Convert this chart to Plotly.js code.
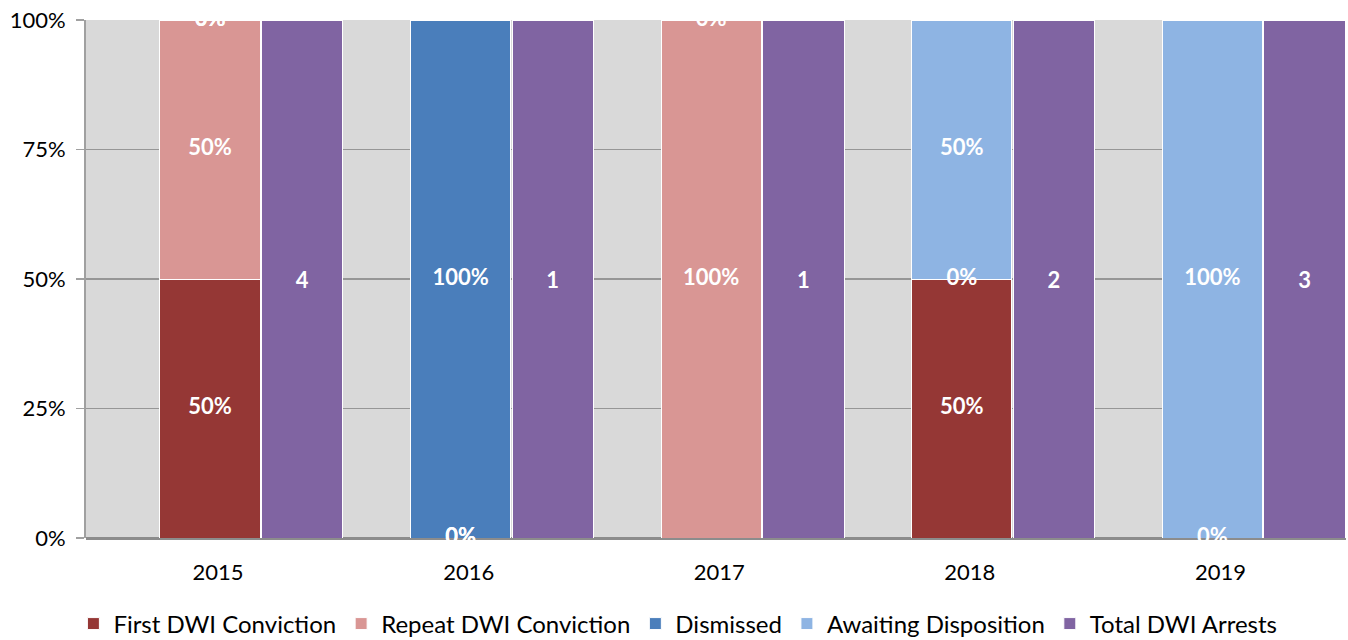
<!DOCTYPE html>
<html>
<head>
<meta charset="utf-8">
<script src="https://cdn.plot.ly/plotly-3.0.1.min.js"></script>
<style>html,body{margin:0;padding:0;background:#fff;}#chart{width:1348px;height:640px;}</style>
</head>
<body>
<div id="chart"></div>
<script>
const years = ['2015', '2016', '2017', '2018', '2019'];
const firstDWI = [0.5, 0, 0, 0.5, 0];
const repeatDWI = [0.5, 0, 1, 0, 0];
const dismissed = [0, 1, 0, 0, 0];
const awaiting = [0, 0, 0, 0.5, 1];
const totalArrests = [4, 1, 1, 2, 3];
const firstLabels = ['50%', '0%', '', '50%', '0%'];
const repeatLabels = ['50%', '0%', '100%', '0%', ''];
const dismissedLabels = ['0%', '100%', '0%', '', ''];
const awaitingLabels = ['0%', '', '', '50%', '100%'];
const yTicks = [0, 0.25, 0.5, 0.75, 1];

const FONT = 'Lato, "Open Sans", sans-serif';
const idx = years.map((_, i) => i);
const series = [
  {name: 'First DWI Conviction', vals: firstDWI, labels: firstLabels, color: '#953735'},
  {name: 'Repeat DWI Conviction', vals: repeatDWI, labels: repeatLabels, color: '#d99694'},
  {name: 'Dismissed', vals: dismissed, labels: dismissedLabels, color: '#4a7ebb'},
  {name: 'Awaiting Disposition', vals: awaiting, labels: awaitingLabels, color: '#8eb4e3'}
];

const traces = [];
const base = idx.map(() => 0);
const lx = [], ly = [], lt = [];
series.forEach(s => {
  traces.push({
    type: 'bar', name: s.name, x: idx, y: s.vals,
    offset: -0.2, width: 0.4,
    marker: {color: s.color, line: {color: '#ffffff', width: 1}},
    hoverinfo: 'skip'
  });
  idx.forEach(i => {
    if (s.labels[i] !== '') {
      lx.push(i);
      ly.push(base[i] + s.vals[i] / 2);
      lt.push(s.labels[i]);
    }
    base[i] += s.vals[i];
  });
});
traces.push({
  type: 'bar', name: 'Total DWI Arrests', x: idx,
  y: totalArrests.map(t => t / t), yaxis: 'y2',
  offset: 0.205, width: 0.325,
  text: totalArrests.map(String), textposition: 'inside', insidetextanchor: 'middle',
  textangle: 0,
  textfont: {color: '#ffffff', size: 22, family: FONT, weight: 'bold'},
  marker: {color: '#8064a2', line: {color: '#ffffff', width: 1}},
  hoverinfo: 'skip'
});
traces.push({
  type: 'scatter', mode: 'text', x: lx, y: ly, text: lt,
  textposition: 'middle center', cliponaxis: false, showlegend: false,
  textfont: {color: '#ffffff', size: 22, family: FONT, weight: 'bold'},
  hoverinfo: 'skip'
});

const layout = {
  width: 1348, height: 640,
  margin: {l: 86, r: 2, t: 20, b: 102, autoexpand: false},
  paper_bgcolor: '#ffffff', plot_bgcolor: '#d9d9d9',
  barmode: 'stack',
  font: {family: FONT, size: 22, color: '#000000'},
  showlegend: true,
  legend: {orientation: 'h', x: -0.010, xanchor: 'left', y: -0.166, yanchor: 'middle',
           font: {size: 24, family: FONT, color: '#000'}, traceorder: 'normal', itemwidth: 30},
  xaxis: {
    range: [-0.495, 4.533], tickvals: idx.map(i => i + 0.032), ticktext: years,
    showgrid: false, zeroline: false, showline: false,
    ticks: 'outside', ticklen: 15, tickcolor: 'rgba(0,0,0,0)',
    tickfont: {size: 22, family: FONT}
  },
  yaxis: {
    range: [0, 1], tickvals: yTicks, tickformat: '.0%',
    showgrid: true, gridcolor: '#969696', gridwidth: 1.5,
    zeroline: true, zerolinecolor: '#8c8c8c', zerolinewidth: 3,
    showline: true, linecolor: '#a0a0a0', linewidth: 2,
    ticks: 'outside', ticklen: 8, tickcolor: '#a0a0a0', tickwidth: 1.5,
    ticklabelstandoff: 6,
    tickfont: {size: 22, family: FONT}, fixedrange: true
  },
  yaxis2: {range: [0, 1], overlaying: 'y', visible: false, fixedrange: true}
};

Plotly.newPlot('chart', traces, layout, {displayModeBar: false, staticPlot: true});
</script>
</body>
</html>
